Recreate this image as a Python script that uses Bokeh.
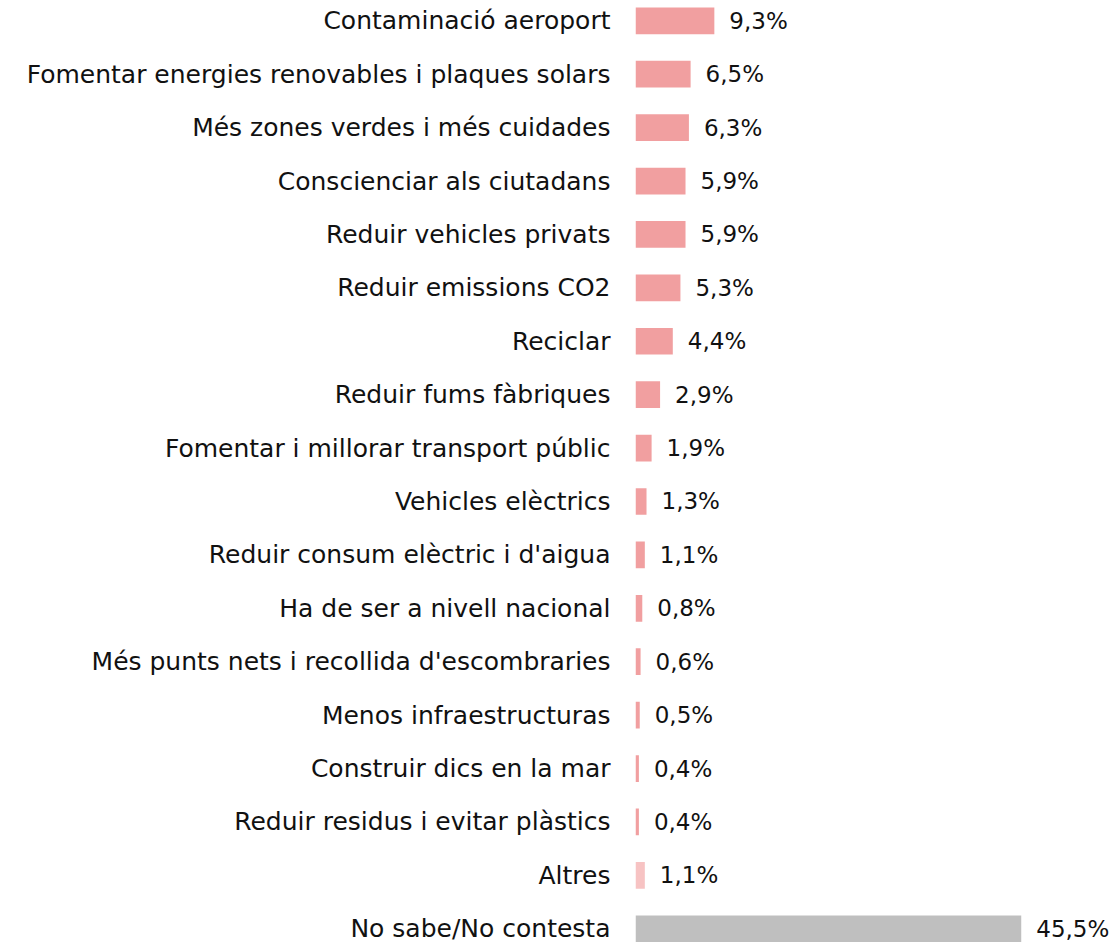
from bokeh.plotting import figure
from bokeh.models import Range1d, FixedTicker, ColumnDataSource
from bokeh.core.properties import value
from bokeh.embed import file_html
from bokeh.resources import INLINE

categories = [
    "Contaminació aeroport",
    "Fomentar energies renovables i plaques solars",
    "Més zones verdes i més cuidades",
    "Conscienciar als ciutadans",
    "Reduir vehicles privats",
    "Reduir emissions CO2",
    "Reciclar",
    "Reduir fums fàbriques",
    "Fomentar i millorar transport públic",
    "Vehicles elèctrics",
    "Reduir consum elèctric i d'aigua",
    "Ha de ser a nivell nacional",
    "Més punts nets i recollida d'escombraries",
    "Menos infraestructuras",
    "Construir dics en la mar",
    "Reduir residus i evitar plàstics",
    "Altres",
    "No sabe/No contesta",
]
percentages = [9.3, 6.5, 6.3, 5.9, 5.9, 5.3, 4.4, 2.9, 1.9, 1.3, 1.1, 0.8, 0.6, 0.5, 0.4, 0.4, 1.1, 45.5]

PINK = "#F19FA0"
LIGHT_PINK = "#F7C3C3"
GREY = "#BFBFBF"
colors = [PINK] * 16 + [LIGHT_PINK, GREY]

FONT = "DejaVu Sans"
TEXT_COLOR = "#111111"

rows = list(range(len(categories)))
source = ColumnDataSource(dict(
    y=rows,
    pct=percentages,
    color=colors,
    label=[f"{v:.1f}%".replace(".", ",") for v in percentages],
))

p = figure(
    width=1114, height=943,
    x_range=Range1d(0, 56.5),
    y_range=Range1d(17.276, -0.38),
    output_backend="svg", toolbar_location=None,
    min_border_left=635, min_border_right=0, min_border_top=0, min_border_bottom=0,
)

p.hbar(y="y", left=0, right="pct", height=0.5, fill_color="color", line_color=None, source=source)
p.text(x="pct", y="y", text="label", x_offset=15, text_baseline="middle", text_align="left",
       text_font=value(FONT), text_font_size="23px", text_color=TEXT_COLOR, source=source)

p.xaxis.visible = False
p.grid.visible = False
p.outline_line_color = None

yaxis = p.yaxis[0]
yaxis.ticker = FixedTicker(ticks=rows)
yaxis.major_label_overrides = {i: c for i, c in enumerate(categories)}
yaxis.axis_line_color = None
yaxis.major_tick_line_color = None
yaxis.minor_tick_line_color = None
yaxis.major_label_standoff = 19
yaxis.major_label_text_font = FONT
yaxis.major_label_text_font_size = "25px"
yaxis.major_label_text_color = TEXT_COLOR

open("out.html", "w").write(file_html(p, INLINE))
